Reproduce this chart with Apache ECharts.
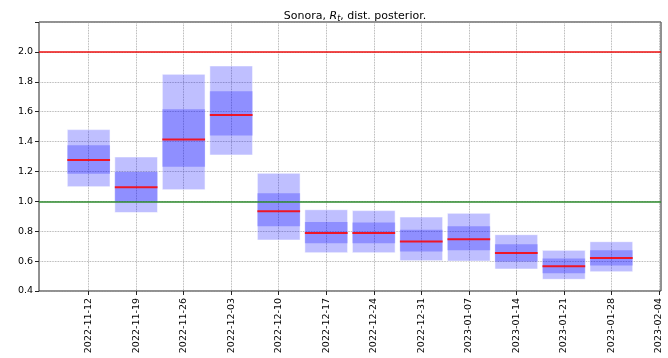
<!DOCTYPE html>
<html>
<head>
<meta charset="utf-8">
<script src="https://cdn.jsdelivr.net/npm/echarts@6/dist/echarts.min.js"></script>
<style>
  html, body { margin: 0; padding: 0; background: #fff; }
  #chart { width: 668px; height: 358px; }
</style>
</head>
<body>
<div id="chart"></div>
<script>
// Weekly posterior summaries of R_t for Sonora
const weeks = ['2022-11-12', '2022-11-19', '2022-11-26', '2022-12-03', '2022-12-10', '2022-12-17',
               '2022-12-24', '2022-12-31', '2023-01-07', '2023-01-14', '2023-01-21', '2023-01-28'];
const tickLabels = ['2022-11-12', '2022-11-19', '2022-11-26', '2022-12-03', '2022-12-10', '2022-12-17',
                    '2022-12-24', '2022-12-31', '2023-01-07', '2023-01-14', '2023-01-21', '2023-01-28', '2023-02-04'];
const outerLow  = [1.098, 0.925, 1.078, 1.310, 0.741, 0.656, 0.656, 0.603, 0.600, 0.547, 0.478, 0.529];
const outerHigh = [1.480, 1.297, 1.850, 1.906, 1.188, 0.944, 0.938, 0.895, 0.920, 0.777, 0.672, 0.730];
const innerLow  = [1.185, 0.998, 1.232, 1.440, 0.833, 0.719, 0.719, 0.665, 0.672, 0.598, 0.518, 0.571];
const innerHigh = [1.375, 1.196, 1.616, 1.737, 1.054, 0.862, 0.859, 0.810, 0.833, 0.712, 0.618, 0.672];
const median    = [1.277, 1.094, 1.413, 1.578, 0.933, 0.788, 0.788, 0.732, 0.746, 0.654, 0.565, 0.620];
const refLow = 1.0;
const refHigh = 2.0;

const DAY = 86400000;
const t0 = Date.UTC(2022, 10, 12);
const dayOf = s => Math.round((Date.parse(s + 'T00:00:00Z') - t0) / DAY);
const tickDays = tickLabels.map(dayOf);
const boxWidth = 6.3; // days

const rows = weeks.map((w, i) => [dayOf(w), outerLow[i], outerHigh[i], innerLow[i], innerHigh[i], median[i]]);

const font = 'DejaVu Sans';

function renderBox(params, api) {
  const x = api.value(0);
  const half = boxWidth / 2;
  const rect = (lo, hi) => {
    const p1 = api.coord([x - half, hi]);
    const p2 = api.coord([x + half, lo]);
    return { x: p1[0], y: p1[1], width: p2[0] - p1[0], height: p2[1] - p1[1] };
  };
  const m1 = api.coord([x - half, api.value(5)]);
  const m2 = api.coord([x + half, api.value(5)]);
  return {
    type: 'group',
    children: [
      { type: 'rect', shape: rect(api.value(1), api.value(2)),
        style: { fill: 'rgba(0,0,255,0.25)', stroke: 'rgba(255,255,255,0.55)', lineWidth: 1 } },
      { type: 'rect', shape: rect(api.value(3), api.value(4)),
        style: { fill: 'rgba(0,0,255,0.25)' } },
      { type: 'line', shape: { x1: m1[0], y1: m1[1], x2: m2[0], y2: m2[1] },
        style: { stroke: 'rgba(255,0,0,0.85)', lineWidth: 2 } }
    ]
  };
}

const chart = echarts.init(document.getElementById('chart'), null, { renderer: 'canvas' });
chart.setOption({
  animation: false,
  title: {
    text: 'Sonora, {i|R}{sub|t}, dist. posterior.',
    left: 350, top: 4, textAlign: 'center',
    textStyle: {
      fontFamily: font, fontSize: 11, fontWeight: 'normal', color: '#000',
      rich: {
        i: { fontFamily: font, fontSize: 11, fontStyle: 'italic', color: '#000' },
        sub: { fontFamily: font, fontSize: 8, fontStyle: 'italic', color: '#000', verticalAlign: 'bottom', padding: [6, 0, 0, 0] }
      }
    }
  },
  grid: { left: 39, right: 7, top: 22, bottom: 67, show: true, borderColor: '#222', borderWidth: 1, backgroundColor: 'transparent' },
  xAxis: {
    type: 'value',
    min: -7.315, max: 84.315,
    axisLine: { show: false, onZero: false },
    axisTick: { show: true, customValues: tickDays, length: 4, lineStyle: { color: '#222' } },
    axisLabel: {
      customValues: tickDays, rotate: 90, margin: 7,
      fontFamily: font, fontSize: 9.5, color: '#000',
      formatter: v => tickLabels[tickDays.indexOf(Math.round(v))] || ''
    },
    splitLine: { show: true, lineStyle: { type: 'dotted', color: '#999', width: 0.8 } }
  },
  yAxis: {
    type: 'value',
    min: 0.4, max: 2.2, interval: 0.2,
    axisLine: { show: false, onZero: false },
    axisTick: { show: true, length: 4, lineStyle: { color: '#222' } },
    axisLabel: {
      fontFamily: font, fontSize: 9.5, color: '#000', margin: 6,
      formatter: v => (Math.abs(v - 2.2) < 1e-6 ? '' : v.toFixed(1))
    },
    splitLine: { show: true, lineStyle: { type: 'dotted', color: '#999', width: 0.8 } }
  },
  series: [
    {
      type: 'line', data: [], silent: true,
      markLine: {
        symbol: 'none', silent: true, label: { show: false },
        data: [
          { yAxis: refHigh, lineStyle: { color: '#ee1111', width: 1.5, type: 'solid' } },
          { yAxis: refLow, lineStyle: { color: '#2e8b2e', width: 1.5, type: 'solid' } }
        ]
      }
    },
    {
      type: 'custom',
      renderItem: renderBox,
      data: rows,
      encode: { x: 0, y: [1, 2, 3, 4, 5] },
      z: 3
    }
  ]
});
</script>
</body>
</html>
